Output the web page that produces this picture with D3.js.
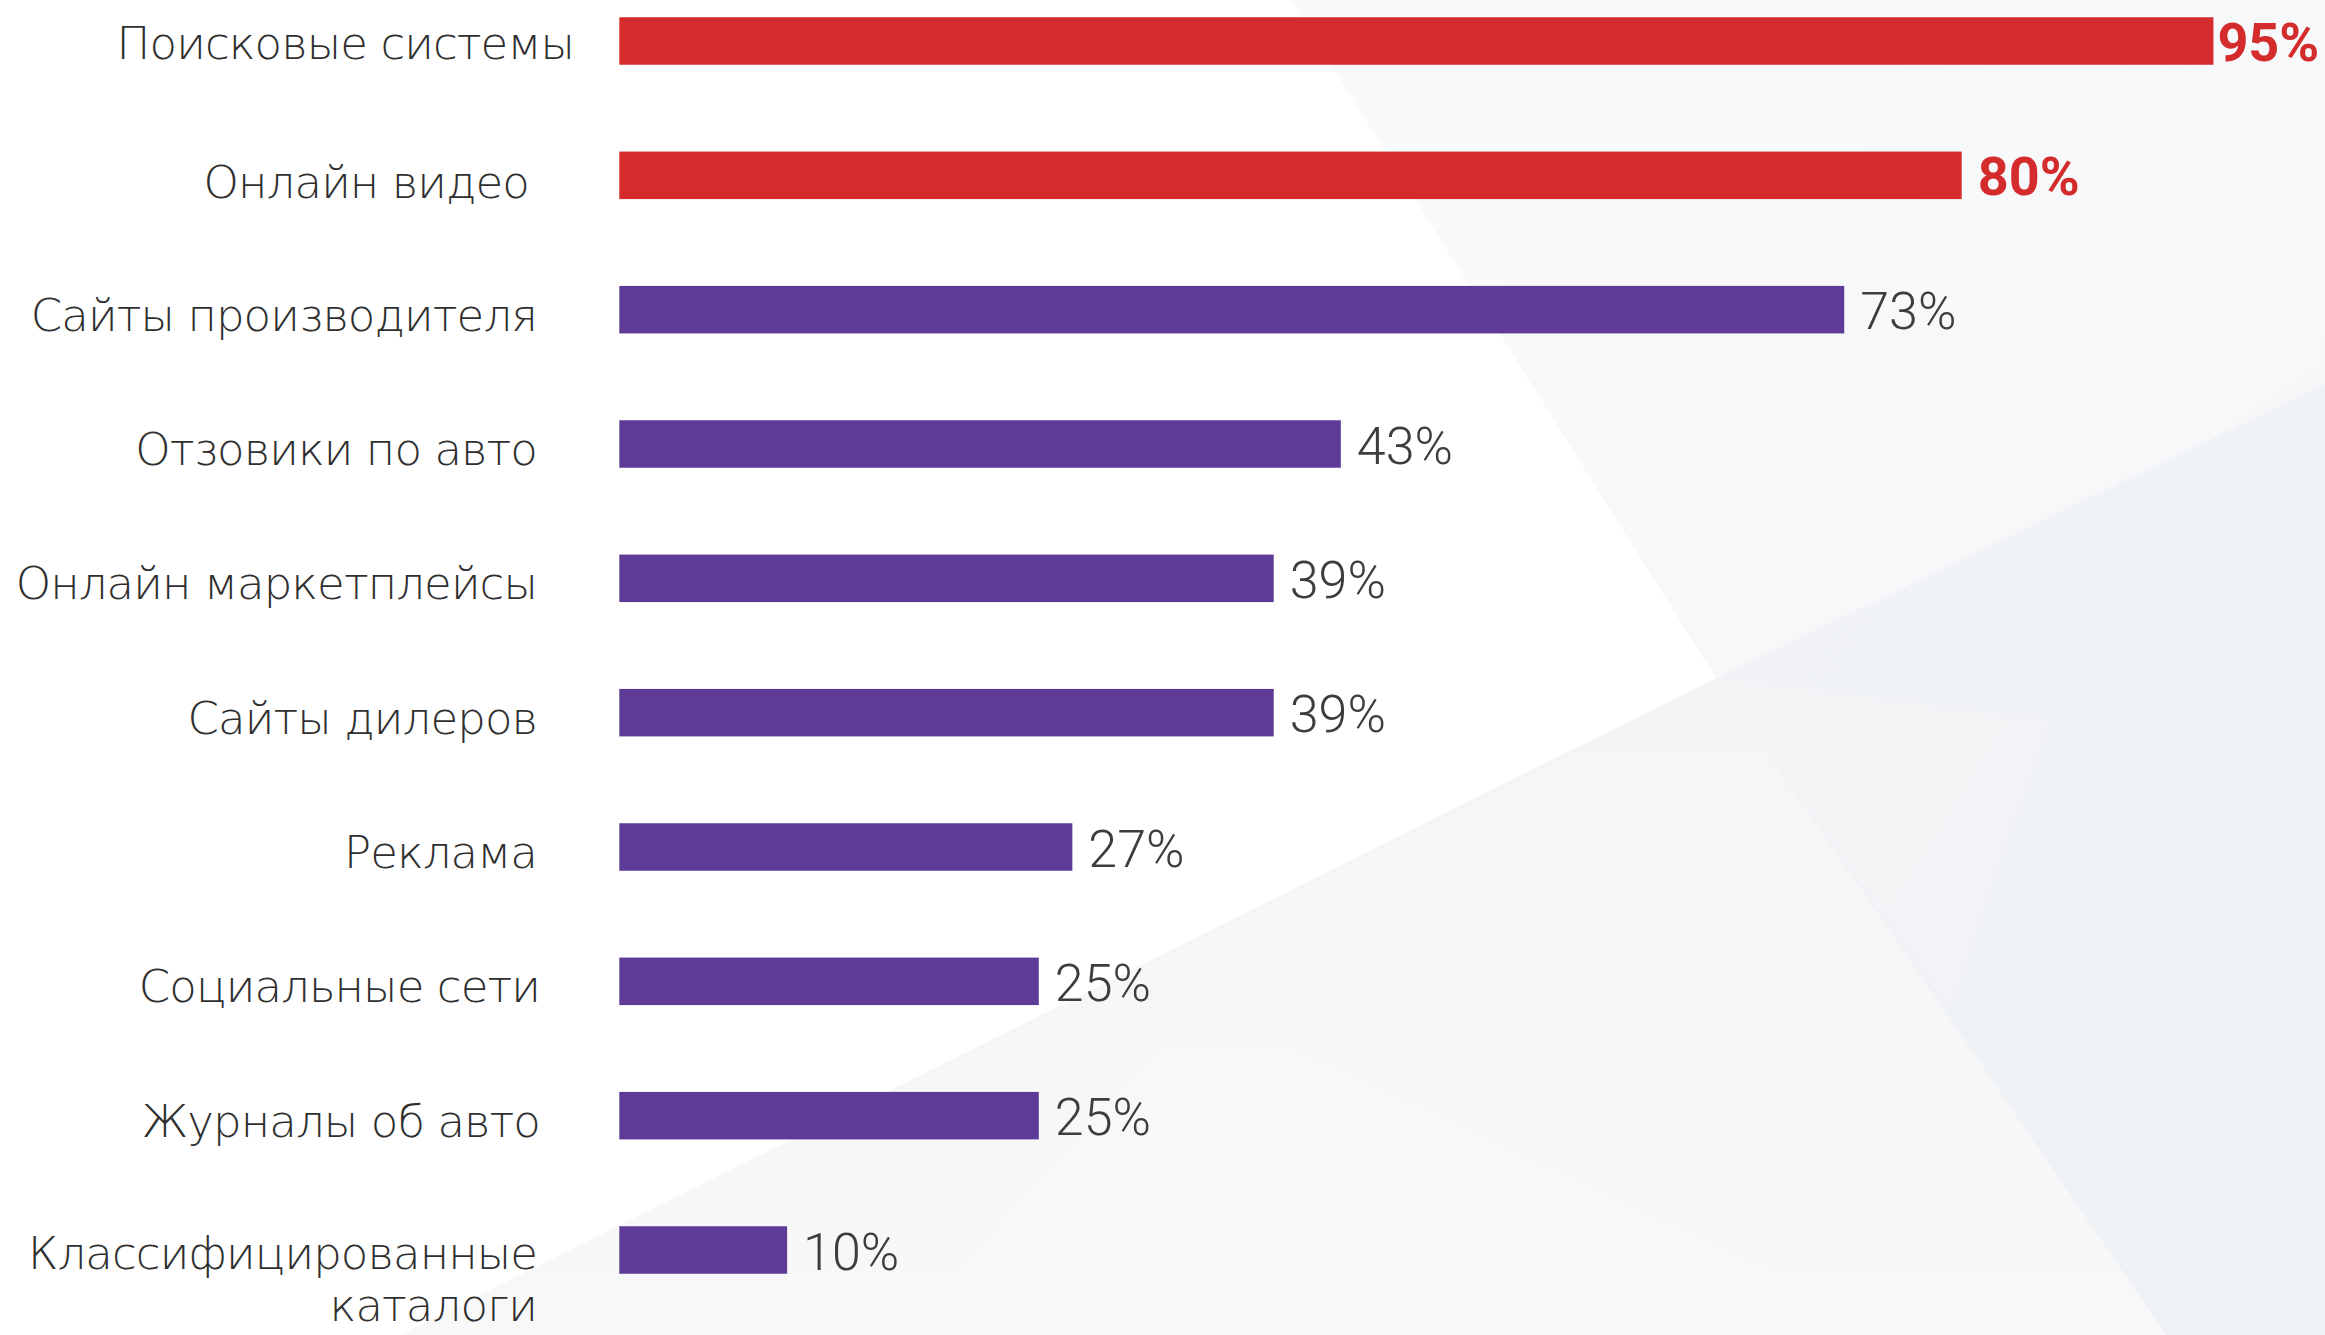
<!DOCTYPE html>
<html lang="ru">
<head>
<meta charset="utf-8">
<script src="https://cdn.jsdelivr.net/npm/d3@7"></script>
<style>
  html, body { margin: 0; padding: 0; background: #ffffff; }
  svg { display: block; }
</style>
</head>
<body>
<svg id="chart" width="2325" height="1335"></svg>
<script>
// Источники информации при выборе автомобиля
const categories = [
  "Поисковые системы",
  "Онлайн видео",
  "Сайты производителя",
  "Отзовики по авто",
  "Онлайн маркетплейсы",
  "Сайты дилеров",
  "Реклама",
  "Социальные сети",
  "Журналы об авто",
  "Классифицированные каталоги"
];
const values = [95, 80, 73, 43, 39, 39, 27, 25, 25, 10];
const highlighted = [true, true, false, false, false, false, false, false, false, false];

const W = 2325, H = 1335;
const svg = d3.select("#chart");

// soft faceted backdrop
const bg = svg.append("g");
const defs = svg.append("defs");
const g1 = defs.append("linearGradient").attr("id", "facetLow")
  .attr("x1", 0).attr("y1", 0).attr("x2", 0).attr("y2", 1);
g1.append("stop").attr("offset", 0).attr("stop-color", "#f4f5f5");
g1.append("stop").attr("offset", 1).attr("stop-color", "#f8f8f8");
const g2 = defs.append("linearGradient").attr("id", "facetRight")
  .attr("x1", 0).attr("y1", 0).attr("x2", 1).attr("y2", 1);
g2.append("stop").attr("offset", 0).attr("stop-color", "#f1f3f6");
g2.append("stop").attr("offset", 1).attr("stop-color", "#eef1f6");
const g3 = defs.append("linearGradient").attr("id", "facetTop")
  .attr("x1", 0).attr("y1", 0).attr("x2", 1).attr("y2", 1);
g3.append("stop").attr("offset", 0).attr("stop-color", "#f9fafc");
g3.append("stop").attr("offset", 1).attr("stop-color", "#f5f7f9");

bg.append("rect").attr("width", W).attr("height", H).attr("fill", "#ffffff");
bg.append("polygon")
  .attr("points", [[1290, 0], [W, 0], [W, 384], [1716, 678]].join(" "))
  .attr("fill", "url(#facetTop)");
bg.append("polygon")
  .attr("points", [[400, H], [1716, 678], [2166, H]].join(" "))
  .attr("fill", "url(#facetLow)");
bg.append("polygon")
  .attr("points", [[1716, 678], [W, 384], [W, H], [2166, H]].join(" "))
  .attr("fill", "url(#facetRight)");
bg.append("polygon")
  .attr("points", [[1716, 678], [2050, 720], [1950, 1010]].join(" "))
  .attr("fill", "#f3f4f7").attr("opacity", 0.7);
bg.append("polygon")
  .attr("points", [[900, 1335], [1200, 1000], [1900, 1335]].join(" "))
  .attr("fill", "#f7f8f8").attr("opacity", 0.8);

// scales
const x = d3.scaleLinear().domain([0, 100]).range([619.3, 2297.3]);
const y = d3.scalePoint().domain(categories).range([41, 1250]);
const barH = 47.5;

const red = "#d42c2c", purple = "#5e3b96";

const rows = categories.map((c, i) => ({ c, v: values[i], hi: highlighted[i] }));

// bars
svg.append("g").selectAll("rect").data(rows).join("rect")
  .attr("x", x(0))
  .attr("y", d => y(d.c) - barH / 2)
  .attr("width", d => x(d.v) - x(0))
  .attr("height", barH)
  .attr("fill", d => d.hi ? red : purple);

// value labels
svg.append("g").selectAll("text").data(rows).join("text")
  .attr("x", (d, i) => x(d.v) + (i === 0 ? 4 : 16))
  .attr("y", d => y(d.c) + 19.5)
  .attr("font-family", "Roboto, 'Open Sans', sans-serif")
  .attr("font-weight", d => d.hi ? 700 : 300)
  .attr("font-size", d => d.hi ? 54 : 52)
  .attr("fill", d => d.hi ? red : "#3d3d3d")
  .text(d => d.v + "%");

// category labels (right aligned, the last one wraps to two lines)
const labelRight = 537;
const nudgeX = { "Поисковые системы": 37, "Онлайн видео": -8, "Социальные сети": 3, "Журналы об авто": 3 };
const nudgeY = { "Поисковые системы": -3, "Онлайн видео": 2 };
const lab = svg.append("g")
  .attr("font-family", "'DejaVu Sans', sans-serif")
  .attr("font-weight", 200)
  .attr("font-size", 45)
  .attr("letter-spacing", -0.9)
  .attr("fill", "#2f2f2f")
  .attr("text-anchor", "end");
rows.forEach(d => {
  const words = d.c === "Классифицированные каталоги" ? ["Классифицированные", "каталоги"] : [d.c];
  const lx = labelRight + (nudgeX[d.c] || 0);
  const t = lab.append("text")
    .attr("x", lx)
    .attr("y", y(d.c) + 21 + (nudgeY[d.c] || 0) - (words.length > 1 ? 2 : 0));
  words.forEach((w, k) => {
    t.append("tspan")
      .attr("x", lx)
      .attr("dy", k === 0 ? 0 : 52)
      .text(w);
  });
});
</script>
</body>
</html>
